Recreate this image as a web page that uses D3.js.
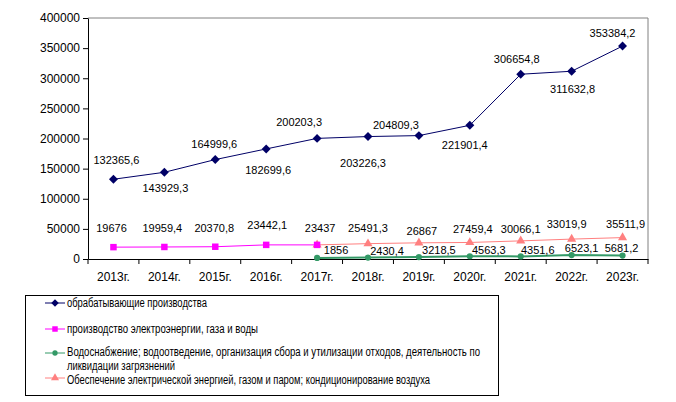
<!DOCTYPE html>
<html><head><meta charset="utf-8">
<script src="https://cdn.jsdelivr.net/npm/d3@7"></script>
<style>body{margin:0;background:#fff}svg{display:block;font-family:"Liberation Sans",Arial,sans-serif}</style>
</head><body><svg id="c" width="676" height="402"></svg>
<script>
const years = ["2013г.","2014г.","2015г.","2016г.","2017г.","2018г.","2019г.","2020г.","2021г.","2022г.","2023г."];
const yTicks = [0,50000,100000,150000,200000,250000,300000,350000,400000];
const manufacturing = [132365.6,143929.3,164999.6,182699.6,200203.3,203226.3,204809.3,221901.4,306654.8,311632.8,353384.2];
const electricityOld = [19676,19959.4,20370.8,23442.1,23437,null,null,null,null,null,null];
const waterSupply = [null,null,null,null,1856,2430.4,3218.5,4563.3,4351.6,6523.1,5681.2];
const electricityNew = [null,null,null,null,23437,25491.3,26867,27459.4,30066.1,33019.9,35511.9];
const names = ["обрабатывающие производства","производство электроэнергии, газа и воды",
  "Водоснабжение; водоотведение, организация сбора и утилизации отходов, деятельность по ликвидации загрязнений",
  "Обеспечение электрической энергией, газом и паром; кондиционирование воздуха"];
// label placement offsets (layout, not data)
const offManu = [[3,-19],[1,16],[-1,-15],[2,21],[-18,-16],[-5,27],[-23,-10],[-5,20],[-4,-15],[1,18],[-10,-13]];
const offOld = [[-2,-19],[-2,-19],[-1,-19],[1,-20],[3,-17]];
const offWater = [[19,-8],[19,-6],[20,-7],[19,-6],[17,-6],[10,-7],[-1,-7]];
const offNew = [[0,0],[0,-15],[3,-12],[3,-13],[0,-12],[-5,-15],[3,-13]];

const svg = d3.select("#c");
const L=88,R=648,T=18,B=259;
const x = d3.scaleBand().domain(years).range([L,R]);
const y = d3.scaleLinear().domain([0,400000]).range([B,T]);
const fmt = v => String(v).replace(".",",");
const diamond = {draw(ctx,size){const r=Math.sqrt(size/2);ctx.moveTo(0,-r);ctx.lineTo(r,0);ctx.lineTo(0,r);ctx.lineTo(-r,0);ctx.closePath();}};

// frame
svg.append("line").attr("x1",L).attr("x2",R).attr("y1",T).attr("y2",T).attr("stroke","#808080");
svg.append("line").attr("x1",R).attr("x2",R).attr("y1",T).attr("y2",B).attr("stroke","#808080");

const ya = svg.append("g").attr("transform",`translate(${L},0)`)
  .call(d3.axisLeft(y).tickValues(yTicks).tickFormat(d=>String(d)).tickSize(5).tickSizeOuter(0));
ya.select(".domain").attr("stroke","#000");
ya.selectAll("text").attr("font-size",12).attr("fill","#000").attr("font-family","Liberation Sans, Arial").attr("x",-8);

const xa = svg.append("g").attr("transform",`translate(0,${B})`)
  .call(d3.axisBottom(x).tickSize(0).tickSizeOuter(0));
xa.select(".domain").attr("stroke","#000");
xa.selectAll("text").attr("font-size",12).attr("fill","#000").attr("font-family","Liberation Sans, Arial").attr("dy","1.55em");
svg.append("g").selectAll("line").data(d3.range(years.length+1)).join("line")
  .attr("x1",i=>L+i*x.bandwidth()).attr("x2",i=>L+i*x.bandwidth())
  .attr("y1",B).attr("y2",B+5).attr("stroke","#000");

const cx = i => x(years[i])+x.bandwidth()/2;
function series(vals,color,marker,size,lw){
  const pts = vals.map((v,i)=>({v,i})).filter(d=>d.v!==null);
  svg.append("path").datum(pts).attr("fill","none").attr("stroke",color).attr("stroke-width",lw)
    .attr("d",d3.line().x(d=>cx(d.i)).y(d=>y(d.v)));
  svg.append("g").selectAll("path").data(pts).join("path")
    .attr("transform",d=>`translate(${cx(d.i)},${y(d.v)})`)
    .attr("d",d3.symbol().type(marker).size(size)).attr("fill",color);
  return pts;
}
function labels(pts,offs,skipFirst){
  svg.append("g").selectAll("text").data(pts.filter((d,k)=>!(skipFirst&&k===0))).join("text")
    .attr("x",d=>cx(d.i)+offs[pts.indexOf(d)][0]).attr("y",d=>y(d.v)+offs[pts.indexOf(d)][1])
    .attr("dy","0.35em").attr("text-anchor","middle").attr("font-size",11).attr("fill","#000")
    .text(d=>fmt(d.v));
}
const pN = series(electricityNew,"#FF8080",d3.symbolTriangle,36,1);
const pO = series(electricityOld,"#FF00FF",d3.symbolSquare,42,1);
const pW = series(waterSupply,"#339966",d3.symbolCircle,30,2);
const pM = series(manufacturing,"#000066",diamond,40,1);
labels(pM,offManu); labels(pO,offOld); labels(pW,offWater); labels(pN,offNew,true);

// legend
svg.append("rect").attr("x",25.5).attr("y",295.5).attr("width",473).attr("height",100)
  .attr("fill","none").attr("stroke","#000");
const leg = [
  {c:"#000066",m:diamond,s:28,ly:303,lines:[[names[0],303,140]]},
  {c:"#FF00FF",m:d3.symbolSquare,s:30,ly:329,lines:[[names[1],329,191]]},
  {c:"#339966",m:d3.symbolCircle,s:22,ly:353,lines:[["Водоснабжение; водоотведение, организация сбора и утилизации отходов, деятельность по",352,413],["ликвидации загрязнений",366,108]]},
  {c:"#FF8080",m:d3.symbolTriangle,s:28,ly:378,lines:[[names[3],380,363]]}
];
leg.forEach(d=>{
  svg.append("line").attr("x1",45).attr("x2",65).attr("y1",d.ly).attr("y2",d.ly).attr("stroke",d.c);
  svg.append("path").attr("transform",`translate(55,${d.ly})`).attr("d",d3.symbol().type(d.m).size(d.s)).attr("fill",d.c);
  d.lines.forEach(l=>{
    svg.append("text").attr("x",67).attr("y",l[1]).attr("dy","0.35em").attr("font-size",12)
      .attr("textLength",l[2]).attr("lengthAdjust","spacingAndGlyphs").text(l[0]);
  });
});
</script></body></html>
